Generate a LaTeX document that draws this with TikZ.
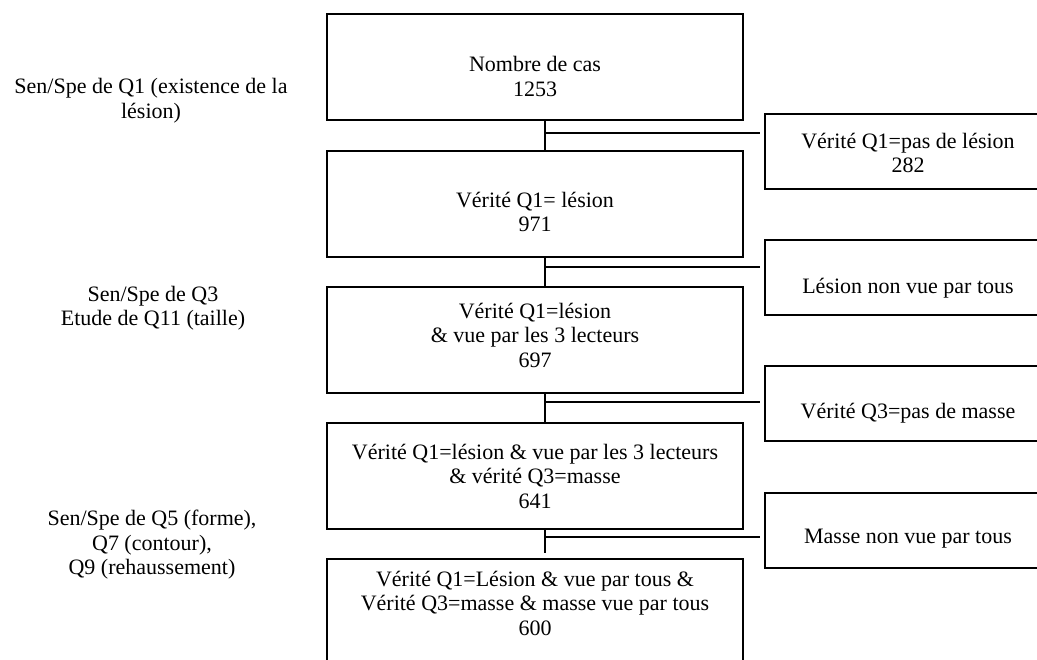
\documentclass[tikz,border=0pt]{standalone}
\usepackage{fontspec}
\setmainfont{Liberation Serif}
\usepackage{tikz}
\usetikzlibrary{positioning,calc}

\begin{document}
\begin{tikzpicture}[x=1pt,y=-1pt,
  mainbox/.style={draw,line width=2pt,minimum width=416pt,minimum height=106pt,inner sep=0pt},
  sidebox/.style={draw,line width=2pt,minimum width=286pt,minimum height=75pt,inner sep=0pt},
  txt/.style={align=center,inner sep=0pt,font=\fontsize{22}{24.5}\selectfont},
  lien/.style={line width=1.7pt}]
\useasboundingbox (0,0) rectangle (1037,660);
\clip (0,0) rectangle (1037,660);
\node[mainbox] (n1) at (535,67) {};
\node[mainbox] (n2) at (535,204) {};
\node[mainbox] (n3) at (535,340) {};
\node[mainbox] (n4) at (535,476) {};
\node[mainbox] (n5) at (535,612) {};
\node[txt] (t1) at (535,76.5) {Nombre de cas\\1253};
\node[txt] (t2) at (535,212) {Vérité Q1= lésion\\971};
\node[txt] (t3) at (535,335) {Vérité Q1=lésion\\\& vue par les 3 lecteurs\hspace*{52pt}\\697};
\node[txt] (t4) at (535,476) {Vérité Q1=lésion \& vue par les 3 lecteurs\\\& vérité Q3=masse\\641};
\node[txt] (t5) at (535,603) {Vérité Q1=Lésion \& vue par tous \&\\Vérité Q3=masse \& masse vue par tous\\600};
\node[sidebox] (r1) at (908,151.5) {};
\node[sidebox] (r2) at (908,278) {};
\node[sidebox] (r3) at (908,404) {};
\node[sidebox] (r4) at (908,530) {};
\node[txt] (rt1) at (908,153) {Vérité Q1=pas de lésion\\282};
\node[txt] (rt2) at (908,288) {Lésion non vue par tous};
\node[txt] (rt3) at (908,413) {Vérité Q3=pas de masse};
\node[txt] (rt4) at (908,539) {Masse non vue par tous};
\node[txt] (l1) at (151,100.5) {Sen/Spe de Q1 (existence de la\\lésion)};
\node[txt] (l2) at (153,308) {Sen/Spe de Q3\\Etude de Q11 (taille)};
\node[txt] (l3) at (152,545) {Sen/Spe de Q5 (forme),\\Q7 (contour),\\Q9 (rehaussement)};
\coordinate (b1) at (545,133);
\coordinate (b2) at (545,267);
\coordinate (b3) at (545,402);
\coordinate (b4) at (545,537);
\coordinate (e4) at (545,553);
\draw[lien] (n1.south -| b1) -- (n2.north -| b1);
\draw[lien] (n2.south -| b2) -- (n3.north -| b2);
\draw[lien] (n3.south -| b3) -- (n4.north -| b3);
\draw[lien] (n4.south -| b4) -- (e4);
\draw[lien,shorten >=4pt] (b1) -- (b1 -| r1.west);
\draw[lien,shorten >=4pt] (b2) -- (b2 -| r2.west);
\draw[lien,shorten >=4pt] (b3) -- (b3 -| r3.west);
\draw[lien,shorten >=4pt] (b4) -- (b4 -| r4.west);
\end{tikzpicture}
\end{document}
